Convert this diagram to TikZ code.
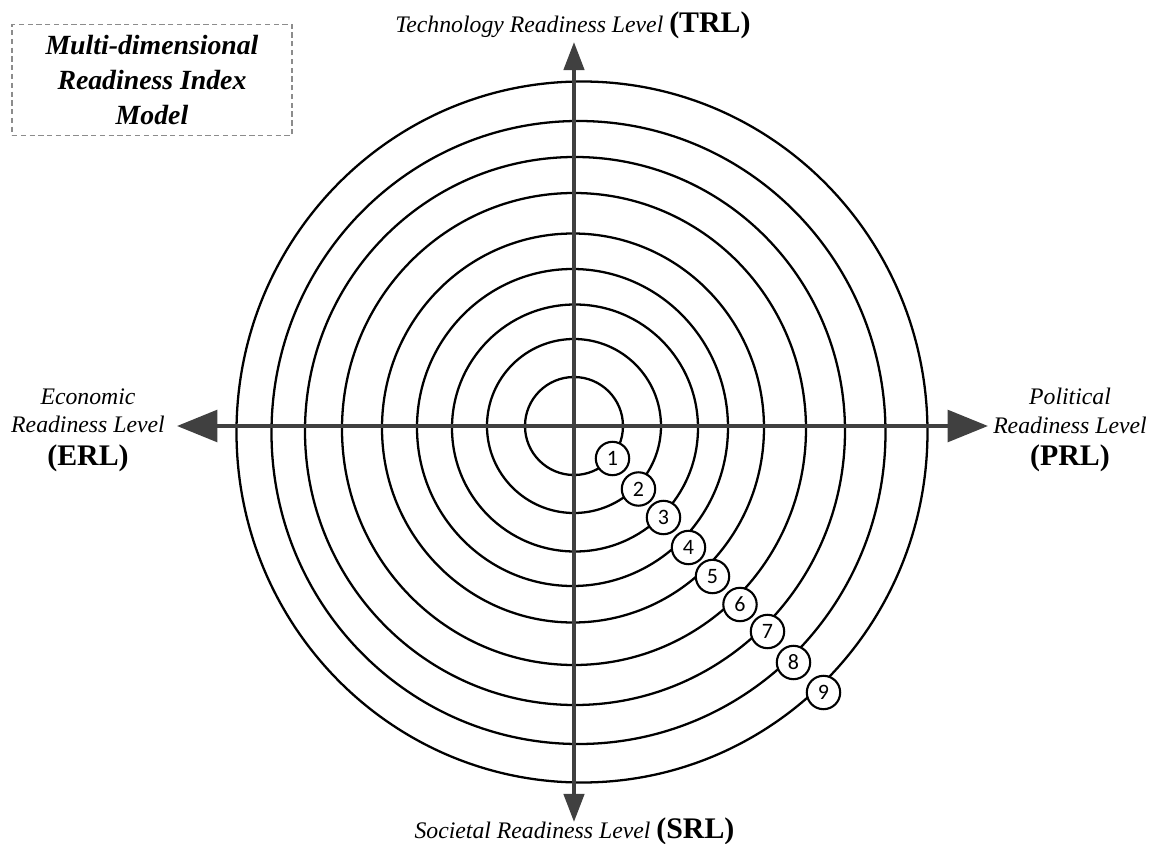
\documentclass[tikz,border=0pt]{standalone}
\usepackage{fontspec}
\setmainfont{Liberation Serif}
\newfontfamily\numfont{Carlito}
\usetikzlibrary{arrows.meta, positioning}
\definecolor{axis_gray}{RGB}{64, 64, 64}
\definecolor{frame_gray}{RGB}{140, 140, 140}
\def \ab #1{{\upshape\bfseries\fontsize{17}{20}\selectfont #1}}

\begin{document}
\begin{tikzpicture}[
    ring/.style={
        draw=black,
        line width=1.3pt
    },
    axis_h/.style={
        {Triangle[length=23pt,width=18pt]}-{Triangle[length=23pt,width=18pt]},
        line width=2.3pt,
        draw=#1
    },
    axis_v/.style={
        {Triangle[length=16pt,width=11.5pt]}-{Triangle[length=16pt,width=11.5pt]},
        line width=2.3pt,
        draw=#1
    },
    level/.style={
        circle,
        draw=black,
        fill=white,
        line width=1.2pt,
        minimum size=19pt,
        inner sep=0pt,
        font=\numfont\fontsize{12.5}{12.5}\selectfont
    },
    axis_label/.style={
        inner sep=0pt,
        align=center,
        font=\itshape\fontsize{13.5}{16.4}\selectfont
    },
    model_box/.style={
        rectangle,
        draw=#1,
        dash pattern=on 3pt off 2pt,
        line width=0.6pt,
        minimum width=5.6cm,
        minimum height=2.22cm,
        align=center,
        font=\bfseries\itshape\fontsize{15.8}{19.8}\selectfont
    }
]
\useasboundingbox (-11.48,-8.36) rectangle (11.60,8.52);

% Readiness rings
\foreach \cx/\cy/\rx/\ry in {0/0/0.98/0.98, 0/0/1.74/1.74, 0.02/-0.04/2.46/2.47,
    -0.03/-0.03/3.11/3.17, -0.02/-0.04/3.82/3.89, 0/-0.06/4.64/4.72,
    0.02/-0.10/5.40/5.48, 0.09/-0.13/6.14/6.23, 0.16/-0.12/6.91/7.01}
    \draw[ring] (\cx,\cy) ellipse [x radius=\rx, y radius=\ry];

% Axes
\coordinate (erl_tip) at (-7.94,0);
\coordinate (prl_tip) at (8.28,0);
\coordinate (trl_tip) at (0,7.68);
\coordinate (srl_tip) at (0,-7.92);

\draw[axis_h=axis_gray] (erl_tip) -- (prl_tip);
\draw[axis_v=axis_gray] (srl_tip) -- (trl_tip);

% Level markers
\foreach \i/\x/\y in {1/0.77/-0.65, 2/1.29/-1.26, 3/1.79/-1.83, 4/2.29/-2.43,
    5/2.77/-3.01, 6/3.32/-3.57, 7/3.87/-4.11, 8/4.39/-4.73, 9/4.99/-5.33}
    \node[level] (lvl\i) at (\x,\y) {\i};

\node[axis_label, anchor=base] (trl) at (-0.02,7.86) {Technology Readiness Level \ab{(TRL)}};
\node[axis_label, anchor=base] (srl) at (0.01,-8.24) {Societal Readiness Level \ab{(SRL)}};
\node[axis_label, anchor=north] (erl) at (-9.72,0.76) {Economic\\Readiness Level\\[2pt]\ab{(ERL)}};
\node[axis_label, anchor=north] (prl) at (9.92,0.76) {Political\\Readiness Level\\[2pt]\ab{(PRL)}};

\node[model_box=frame_gray] (model) at (-8.44,6.92) {Multi-dimensional\\Readiness Index\\Model};

\end{tikzpicture}
\end{document}
